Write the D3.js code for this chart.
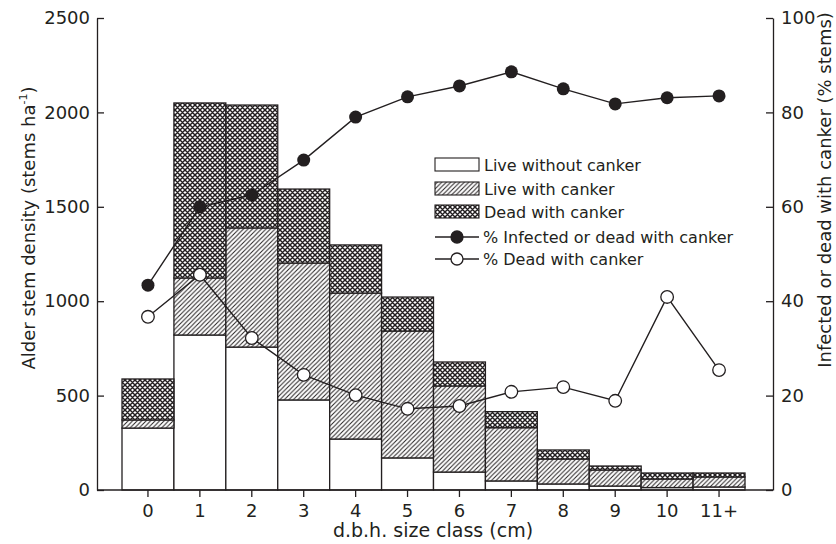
<!doctype html>
<html>
<head>
<meta charset="utf-8">
<style>
  body { margin: 0; background: #fff; }
  svg { display: block; }
  text { font-family: "DejaVu Sans", sans-serif; fill: #231f20; }
  .axis path, .axis line { stroke: #231f20; stroke-width: 1.3; }
  .axis text { font-size: 18px; font-family: "DejaVu Sans", sans-serif; fill: #231f20; }
</style>
<script src="https://d3js.org/d3.v7.min.js"></script>
</head>
<body>
<script>

// size classes (cm)
var classes = ["0", "1", "2", "3", "4", "5", "6", "7", "8", "9", "10", "11+"];

// stem density, stems per ha
var liveNoCanker  = [328, 821, 757, 477, 270, 170,  95,  48,  32, 21, 13, 16];
var liveCanker    = [ 43, 302, 631, 725, 773, 672, 456, 282, 132, 85, 45, 53];
var deadCanker    = [217, 927, 651, 392, 255, 180, 127,  85,  48, 21, 32, 21];

// percent of stems
var pctInfected = [43.4, 60.0, 62.5, 69.9, 79.0, 83.3, 85.6, 88.6, 85.0, 81.8, 83.1, 83.5];
var pctDead     = [36.7, 45.6, 32.2, 24.4, 20.1, 17.2, 17.8, 20.8, 21.8, 18.9, 40.9, 25.4];

var leftTicks = [0, 500, 1000, 1500, 2000, 2500];
var rightTicks = [0, 20, 40, 60, 80, 100];

var W = 836, H = 544;
var plotLeft = 97, plotRight = 773, plotTop = 18, plotBottom = 490;
var ink = "#231f20";

var svg = d3.select("body").append("svg")
    .attr("width", W)
    .attr("height", H);

var defs = svg.append("defs");

var hatch = defs.append("pattern")
    .attr("id", "hatch")
    .attr("patternUnits", "userSpaceOnUse")
    .attr("width", 4.5)
    .attr("height", 4.5);
hatch.append("rect").attr("width", 4.5).attr("height", 4.5).attr("fill", "#fff");
hatch.append("path")
    .attr("d", "M-1,1 l2,-2 M0,4.5 l4.5,-4.5 M3.5,5.5 l2,-2")
    .attr("stroke", ink)
    .attr("stroke-width", 1.0);

var cross = defs.append("pattern")
    .attr("id", "cross")
    .attr("patternUnits", "userSpaceOnUse")
    .attr("width", 5)
    .attr("height", 5);
cross.append("rect").attr("width", 5).attr("height", 5).attr("fill", "#fff");
cross.append("path")
    .attr("d", "M-1,1 l2,-2 M0,5 l5,-5 M4,6 l2,-2 M-1,4 l2,2 M0,0 l5,5 M4,-1 l2,2")
    .attr("stroke", ink)
    .attr("stroke-width", 1.45);

var x = d3.scaleBand()
    .domain(classes)
    .range([plotLeft + 25, plotRight - 28])
    .padding(0);

var y = d3.scaleLinear().domain([0, 2500]).range([plotBottom, plotTop]);
var y2 = d3.scaleLinear().domain([0, 100]).range([plotBottom, plotTop]);

// stacked bars
var rows = classes.map(function(c, i) {
  return { cls: c, a: liveNoCanker[i], b: liveCanker[i], c: deadCanker[i] };
});
var keys = ["a", "b", "c"];
var fills = { a: "#fff", b: "url(#hatch)", c: "url(#cross)" };
var stacked = d3.stack().keys(keys)(rows);

svg.append("g").selectAll("g")
  .data(stacked)
  .enter().append("g")
    .attr("fill", function(s) { return fills[s.key]; })
  .selectAll("rect")
  .data(function(s) { return s; })
  .enter().append("rect")
    .attr("x", function(d) { return x(d.data.cls); })
    .attr("y", function(d) { return y(d[1]); })
    .attr("width", x.bandwidth())
    .attr("height", function(d) { return y(d[0]) - y(d[1]); })
    .attr("stroke", ink)
    .attr("stroke-width", 1.3);

// axes
svg.append("g")
    .attr("class", "axis")
    .attr("transform", "translate(" + plotLeft + ",0)")
    .call(d3.axisRight(y).tickValues(leftTicks).tickSize(7).tickSizeOuter(0).tickFormat(d3.format("d")))
    .call(function(g) {
      g.selectAll("text").attr("x", -7).attr("text-anchor", "end");
    });

svg.append("g")
    .attr("class", "axis")
    .attr("transform", "translate(" + plotRight + ",0)")
    .call(d3.axisLeft(y2).tickValues(rightTicks).tickSize(7).tickSizeOuter(0))
    .call(function(g) {
      g.selectAll("text").attr("x", 8).attr("text-anchor", "start");
    });

svg.append("g")
    .attr("class", "axis")
    .attr("transform", "translate(0," + plotBottom + ")")
    .call(d3.axisBottom(x).tickSize(7).tickSizeOuter(0))
    .call(function(g) {
      g.select(".domain").attr("d", "M" + plotLeft + ",0H" + plotRight);
      g.selectAll("text").attr("dy", "0.71em").attr("y", 14);
    });

// lines
var cx = function(d, i) { return x(classes[i]) + x.bandwidth() / 2; };

var line = d3.line()
    .x(cx)
    .y(function(d) { return y2(d); });

svg.append("path")
    .datum(pctInfected)
    .attr("d", line)
    .attr("fill", "none")
    .attr("stroke", ink)
    .attr("stroke-width", 1.4);

svg.append("path")
    .datum(pctDead)
    .attr("d", line)
    .attr("fill", "none")
    .attr("stroke", ink)
    .attr("stroke-width", 1.4);

svg.append("g").selectAll("circle")
  .data(pctInfected)
  .enter().append("circle")
    .attr("cx", cx)
    .attr("cy", function(d) { return y2(d); })
    .attr("r", 6.5)
    .attr("fill", ink);

svg.append("g").selectAll("circle")
  .data(pctDead)
  .enter().append("circle")
    .attr("cx", cx)
    .attr("cy", function(d) { return y2(d); })
    .attr("r", 6.3)
    .attr("fill", "#fff")
    .attr("stroke", ink)
    .attr("stroke-width", 1.3);

// axis titles
var lt = svg.append("text")
    .attr("transform", "translate(35,228) rotate(-90)")
    .attr("text-anchor", "middle")
    .attr("font-size", "18px");
lt.append("tspan").text("Alder stem density (stems ha");
lt.append("tspan").attr("font-size", "11px").attr("dy", "-8").text("-1");
lt.append("tspan").attr("dy", "8").text(")");

svg.append("text")
    .attr("transform", "translate(831,190) rotate(-90)")
    .attr("text-anchor", "middle")
    .attr("font-size", "18px")
    .text("Infected or dead with canker (% stems)");

svg.append("text")
    .attr("x", 433)
    .attr("y", 537)
    .attr("text-anchor", "middle")
    .attr("font-size", "19px")
    .text("d.b.h. size class (cm)");

// legend
var legend = [
  { label: "Live without canker", type: "box", fill: "#fff" },
  { label: "Live with canker", type: "box", fill: "url(#hatch)" },
  { label: "Dead with canker", type: "box", fill: "url(#cross)" },
  { label: "% Infected or dead with canker", type: "dot", fill: ink },
  { label: "% Dead with canker", type: "dot", fill: "#fff" }
];
var legendY = [165, 189, 212, 237, 259];

var lg = svg.append("g").selectAll("g")
  .data(legend)
  .enter().append("g")
    .attr("transform", function(d, i) { return "translate(435," + legendY[i] + ")"; });

lg.filter(function(d) { return d.type === "box"; })
  .append("rect")
    .attr("x", 0).attr("y", -7)
    .attr("width", 44).attr("height", 13)
    .attr("fill", function(d) { return d.fill; })
    .attr("stroke", ink)
    .attr("stroke-width", 1.1);

var dots = lg.filter(function(d) { return d.type === "dot"; });
dots.append("line")
    .attr("x1", 0).attr("x2", 44)
    .attr("stroke", ink)
    .attr("stroke-width", 1.4);
dots.append("circle")
    .attr("cx", 22).attr("r", 6)
    .attr("fill", function(d) { return d.fill; })
    .attr("stroke", ink)
    .attr("stroke-width", 1.3);

lg.append("text")
    .attr("x", function(d) { return d.type === "box" ? 49 : 48; })
    .attr("dy", "0.36em")
    .attr("font-size", "16px")
    .text(function(d) { return d.label; });

</script>
</body>
</html>
